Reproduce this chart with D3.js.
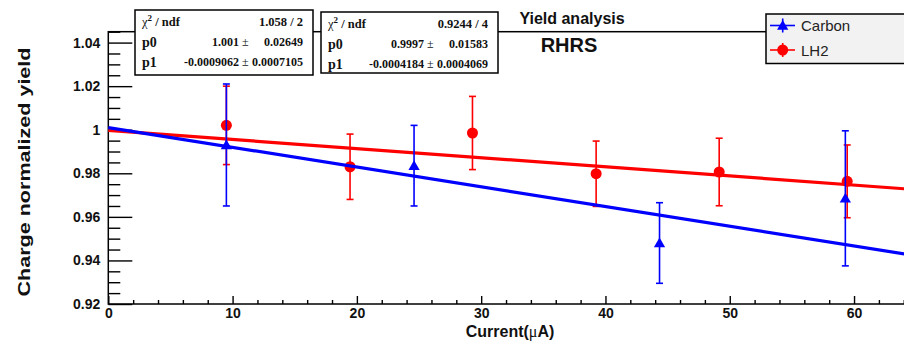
<!DOCTYPE html>
<html>
<head>
<meta charset="utf-8">
<script src="https://cdn.jsdelivr.net/npm/d3@7"></script>
<style>
  body { margin: 0; background: #fff; }
  svg { display: block; }
</style>
</head>
<body>
<div id="chart"></div>
<script>
// data
const carbonX = [9.5, 24.6, 44.35, 59.3];
const carbonY = [0.993, 0.9835, 0.948, 0.9685];
const carbonErr = [0.028, 0.0185, 0.0185, 0.031];

const lh2X = [9.5, 19.45, 29.3, 39.25, 49.15, 59.45];
const lh2Y = [1.002, 0.983, 0.9985, 0.9798, 0.9806, 0.9763];
const lh2Err = [0.018, 0.015, 0.0168, 0.015, 0.0155, 0.0167];

// fit results (pol1) shown in the stat boxes
const fitNames = ["Carbon", "LH2"];
const fitChi2 = ["1.058 / 2", "0.9244 / 4"];
const fitP0 = [1.001, 0.9997];
const fitP0Txt = ["1.001", "0.9997"];
const fitP0Err = ["0.02649", "0.01583"];
const fitP1 = [-0.0009062, -0.0004184];
const fitP1Txt = ["-0.0009062", "-0.0004184"];
const fitP1Err = ["0.0007105", "0.0004069"];

const xMajor = [0, 10, 20, 30, 40, 50, 60];
const yMajor = [0.92, 0.94, 0.96, 0.98, 1.0, 1.02, 1.04];

const W = 904, H = 342;
const padL = 108.3, padR = 905, padT = 31.7, padB = 304;
const xMax = 64.1, yMin = 0.92, yMax = 1.045;

const svg = d3.select("#chart").append("svg")
  .attr("width", W).attr("height", H);

const x = d3.scaleLinear().domain([0, xMax]).range([padL, padR]);
const y = d3.scaleLinear().domain([yMin, yMax]).range([padB, padT]);

const sans = "'Liberation Sans', Arial, Helvetica, sans-serif";
const serif = "'Liberation Serif', 'Times New Roman', serif";

// minor ticks
const xMinor = d3.range(0, xMax, 2).filter(v => v % 10 !== 0);
const yMinor = d3.range(0, 26).map(i => +(0.92 + i * 0.005).toFixed(3))
  .filter(v => !yMajor.some(m => Math.abs(m - v) < 1e-6));

const gx = svg.append("g").attr("transform", `translate(0,${padB})`)
  .call(d3.axisBottom(x).tickValues(xMajor).tickSizeInner(-8).tickSizeOuter(0)
    .tickPadding(4).tickFormat(d3.format("d")));
const gxm = svg.append("g").attr("transform", `translate(0,${padB})`)
  .call(d3.axisBottom(x).tickValues(xMinor).tickSizeInner(-4).tickSizeOuter(0).tickFormat(""));

const gy = svg.append("g").attr("transform", `translate(${padL},0)`)
  .call(d3.axisLeft(y).tickValues(yMajor).tickSizeInner(-24).tickSizeOuter(0)
    .tickPadding(8).tickFormat(d => d === 1 ? "1" : d3.format(".2f")(d)));
const gym = svg.append("g").attr("transform", `translate(${padL},0)`)
  .call(d3.axisLeft(y).tickValues(yMinor).tickSizeInner(-12).tickSizeOuter(0).tickFormat(""));

[gx, gxm, gy, gym].forEach(g => {
  g.select(".domain").remove();
  g.selectAll("line").attr("stroke", "#000").attr("stroke-width", 1.4);
  g.selectAll("text").attr("font-family", sans).attr("font-weight", "bold")
    .attr("font-size", 14).attr("fill", "#111");
});

// frame
svg.append("rect")
  .attr("x", padL).attr("y", padT)
  .attr("width", padR - padL).attr("height", padB - padT)
  .attr("fill", "none").attr("stroke", "#000").attr("stroke-width", 1.5);

// axis titles
svg.append("text")
  .attr("transform", "translate(29.5,172) rotate(-90)")
  .attr("text-anchor", "middle")
  .attr("font-family", sans).attr("font-weight", "bold").attr("font-size", 17)
  .attr("textLength", 249).attr("lengthAdjust", "spacingAndGlyphs")
  .attr("fill", "#111")
  .text("Charge normalized yield");

const xt = svg.append("text")
  .attr("x", 510).attr("y", 337).attr("text-anchor", "middle")
  .attr("font-family", sans).attr("font-weight", "bold").attr("font-size", 16)
  .attr("fill", "#111");
xt.append("tspan").text("Current(");
xt.append("tspan").attr("font-family", serif).attr("font-weight", "normal").text("\u03bc");
xt.append("tspan").text("A)");

// graphs
function drawSeries(xs, ys, es, color, marker) {
  const g = svg.append("g");
  const pts = xs.map((v, i) => ({ x: v, y: ys[i], e: es[i] }));
  g.selectAll("line.bar").data(pts).join("line").attr("class", "bar")
    .attr("x1", d => x(d.x)).attr("x2", d => x(d.x))
    .attr("y1", d => y(d.y + d.e)).attr("y2", d => y(d.y - d.e))
    .attr("stroke", color).attr("stroke-width", 1.6);
  ["up", "dn"].forEach(s => {
    g.selectAll("line.cap" + s).data(pts).join("line").attr("class", "cap" + s)
      .attr("x1", d => x(d.x) - 3.5).attr("x2", d => x(d.x) + 3.5)
      .attr("y1", d => y(s === "up" ? d.y + d.e : d.y - d.e))
      .attr("y2", d => y(s === "up" ? d.y + d.e : d.y - d.e))
      .attr("stroke", color).attr("stroke-width", 1.6);
  });
  const sym = marker === "tri"
    ? d3.symbol().type(d3.symbolTriangle).size(55)
    : d3.symbol().type(d3.symbolCircle).size(95);
  g.selectAll("path.m").data(pts).join("path").attr("class", "m")
    .attr("d", sym)
    .attr("transform", d => `translate(${x(d.x)},${y(d.y) + (marker === "tri" ? 1 : 0)})`)
    .attr("fill", color);
}

function drawFit(k, color) {
  const xs = [0, xMax];
  svg.append("path")
    .datum(xs)
    .attr("d", d3.line().x(d => x(d)).y(d => y(fitP0[k] + fitP1[k] * d)))
    .attr("fill", "none").attr("stroke", color).attr("stroke-width", 3.2);
}

drawSeries(lh2X, lh2Y, lh2Err, "#ff0000", "circle");
drawFit(1, "#ff0000");
drawSeries(carbonX, carbonY, carbonErr, "#0000ff", "tri");
drawFit(0, "#0000ff");

// title
svg.append("text").attr("x", 572).attr("y", 24).attr("text-anchor", "middle")
  .attr("font-family", sans).attr("font-weight", "bold").attr("font-size", 16)
  .attr("fill", "#111").text("Yield analysis");
svg.append("text").attr("x", 569).attr("y", 52).attr("text-anchor", "middle")
  .attr("font-family", sans).attr("font-weight", "bold").attr("font-size", 20)
  .attr("fill", "#111").text("RHRS");

// stat boxes
const boxes = [
  { x0: 135, y0: 10, x1: 313, y1: 75, pm: 245 },
  { x0: 321, y0: 12, x1: 498, y1: 73, pm: 430 }
];
boxes.forEach((b, k) => {
  const g = svg.append("g").attr("font-family", serif).attr("font-weight", "bold")
    .attr("font-size", 12).attr("fill", "#111");
  g.append("rect").attr("x", b.x0).attr("y", b.y0)
    .attr("width", b.x1 - b.x0).attr("height", b.y1 - b.y0)
    .attr("fill", "#fff").attr("stroke", "#000").attr("stroke-width", 1.5);
  const lx = b.x0 + 7, rx = b.x1 - 10;
  const rows = [b.y0 + 16, b.y0 + 36, b.y0 + 56];
  const t0 = g.append("text").attr("x", lx).attr("y", rows[0]).attr("font-size", 12.5);
  t0.append("tspan").attr("font-weight", "normal").text("\u03c7");
  t0.append("tspan").attr("font-size", 9).attr("dy", -5).text("2");
  t0.append("tspan").attr("dy", 5).text(" / ndf");
  g.append("text").attr("x", rx).attr("y", rows[0]).attr("text-anchor", "end")
    .attr("font-size", 12.5).text(fitChi2[k]);
  [[fitP0Txt[k], fitP0Err[k]], [fitP1Txt[k], fitP1Err[k]]].forEach((p, j) => {
    const ry = rows[j + 1];
    g.append("text").attr("x", lx).attr("y", ry + 1).attr("font-size", 14).text("p" + j);
    g.append("text").attr("x", b.pm - 6).attr("y", ry).attr("text-anchor", "end").text(p[0]);
    g.append("text").attr("x", b.pm - 3).attr("y", ry).attr("font-weight", "normal").text("\u00b1");
    g.append("text").attr("x", rx).attr("y", ry).attr("text-anchor", "end").text(p[1]);
  });
});

// legend
const lg = svg.append("g");
lg.append("rect").attr("x", 766).attr("y", 14).attr("width", 150).attr("height", 49.5)
  .attr("fill", "#f2f2f2").attr("stroke", "#000").attr("stroke-width", 1.5);
const legColors = ["#0000ff", "#ff0000"];
const legY = [25.5, 50];
fitNames.forEach((n, i) => {
  lg.append("line").attr("x1", 770).attr("x2", 795).attr("y1", legY[i]).attr("y2", legY[i])
    .attr("stroke", legColors[i]).attr("stroke-width", 1.6);
  lg.append("line").attr("x1", 782.7).attr("x2", 782.7).attr("y1", legY[i] - 7).attr("y2", legY[i] + 7)
    .attr("stroke", legColors[i]).attr("stroke-width", 1.6);
  lg.append("path")
    .attr("d", (i === 0 ? d3.symbol().type(d3.symbolTriangle).size(55) : d3.symbol().type(d3.symbolCircle).size(95))())
    .attr("transform", `translate(782.7,${legY[i] + (i === 0 ? 1 : 0)})`)
    .attr("fill", legColors[i]);
  lg.append("text").attr("x", 801).attr("y", legY[i] + 5.5)
    .attr("font-family", sans).attr("font-size", 15).attr("fill", "#222").text(n);
});
</script>
</body>
</html>
